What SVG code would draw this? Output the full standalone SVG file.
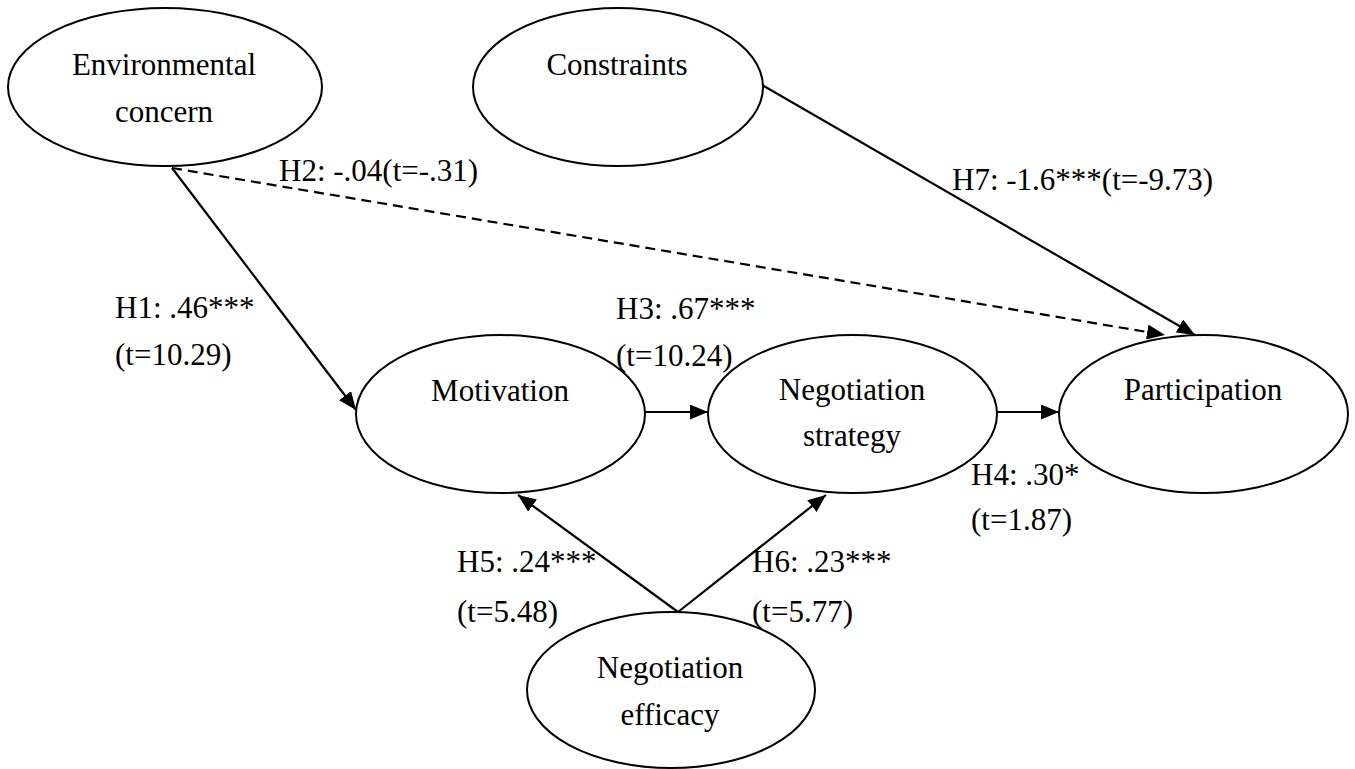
<svg xmlns="http://www.w3.org/2000/svg" width="1355" height="769" viewBox="0 0 1355 769">
<style>
.n{fill:#fff;stroke:#000;stroke-width:2}
text{font-size:31px;fill:#000}
.c{text-anchor:middle}
.e{fill:none;stroke:#000;stroke-width:2.2}
.d{stroke-dasharray:10,6}
</style>
<defs>
<marker id="ah" markerUnits="userSpaceOnUse" markerWidth="19" markerHeight="15" refX="18" refY="7.5" orient="auto">
<path d="M0,0 L18,7.5 L0,15 z" fill="#000"/>
</marker>
</defs>
<rect width="1355" height="769" fill="#fff"/>
<g id="connectors">
<line class="e" x1="172" y1="168" x2="356" y2="410" marker-end="url(#ah)"/>
<line class="e d" x1="172" y1="168" x2="1165" y2="335" marker-end="url(#ah)"/>
<line class="e" x1="762" y1="85" x2="1195" y2="335" marker-end="url(#ah)"/>
<line class="e" x1="645" y1="412" x2="708" y2="412" marker-end="url(#ah)"/>
<line class="e" x1="997" y1="412" x2="1059" y2="412" marker-end="url(#ah)"/>
<line class="e" x1="678" y1="612" x2="518" y2="495" marker-end="url(#ah)"/>
<line class="e" x1="678" y1="612" x2="826" y2="495" marker-end="url(#ah)"/>
</g>
<g id="nodes" font-family="Liberation Serif, serif">
<g id="environmental-concern">
<ellipse class="n" cx="165" cy="87" rx="157" ry="79"/>
<text class="c" x="164" y="75" font-family="Liberation Serif">Environmental</text>
<text class="c" x="164" y="122" font-family="Liberation Serif">concern</text>
</g>
<g id="constraints">
<ellipse class="n" cx="618" cy="87" rx="145" ry="79"/>
<text class="c" x="617" y="75" font-family="Liberation Serif">Constraints</text>
</g>
<g id="motivation">
<ellipse class="n" cx="500.5" cy="414" rx="144.5" ry="79"/>
<text class="c" x="500" y="401" font-family="Liberation Serif">Motivation</text>
</g>
<g id="negotiation-strategy">
<ellipse class="n" cx="852.5" cy="414" rx="144.5" ry="79"/>
<text class="c" x="852" y="400" font-family="Liberation Serif">Negotiation</text>
<text class="c" x="852" y="446" font-family="Liberation Serif">strategy</text>
</g>
<g id="participation">
<ellipse class="n" cx="1203.5" cy="414" rx="144.5" ry="79"/>
<text class="c" x="1203" y="400" font-family="Liberation Serif">Participation</text>
</g>
<g id="negotiation-efficacy">
<ellipse class="n" cx="671" cy="690" rx="144" ry="78"/>
<text class="c" x="670" y="678" font-family="Liberation Serif">Negotiation</text>
<text class="c" x="670" y="725" font-family="Liberation Serif">efficacy</text>
</g>
</g>
<g id="labels" font-family="Liberation Serif, serif">
<text x="279" y="181" font-family="Liberation Serif">H2: -.04(t=-.31)</text>
<text x="115" y="318" font-family="Liberation Serif">H1: .46***</text>
<text x="115" y="365" font-family="Liberation Serif">(t=10.29)</text>
<text x="616" y="319" font-family="Liberation Serif">H3: .67***</text>
<text x="616" y="366" font-family="Liberation Serif">(t=10.24)</text>
<text x="971" y="485" font-family="Liberation Serif">H4: .30*</text>
<text x="971" y="530" font-family="Liberation Serif">(t=1.87)</text>
<text x="457" y="572" font-family="Liberation Serif">H5: .24***</text>
<text x="457" y="622" font-family="Liberation Serif">(t=5.48)</text>
<text x="752" y="572" font-family="Liberation Serif">H6: .23***</text>
<text x="752" y="622" font-family="Liberation Serif">(t=5.77)</text>
<text x="952" y="190" font-family="Liberation Serif">H7: -1.6***(t=-9.73)</text>
</g>
</svg>
